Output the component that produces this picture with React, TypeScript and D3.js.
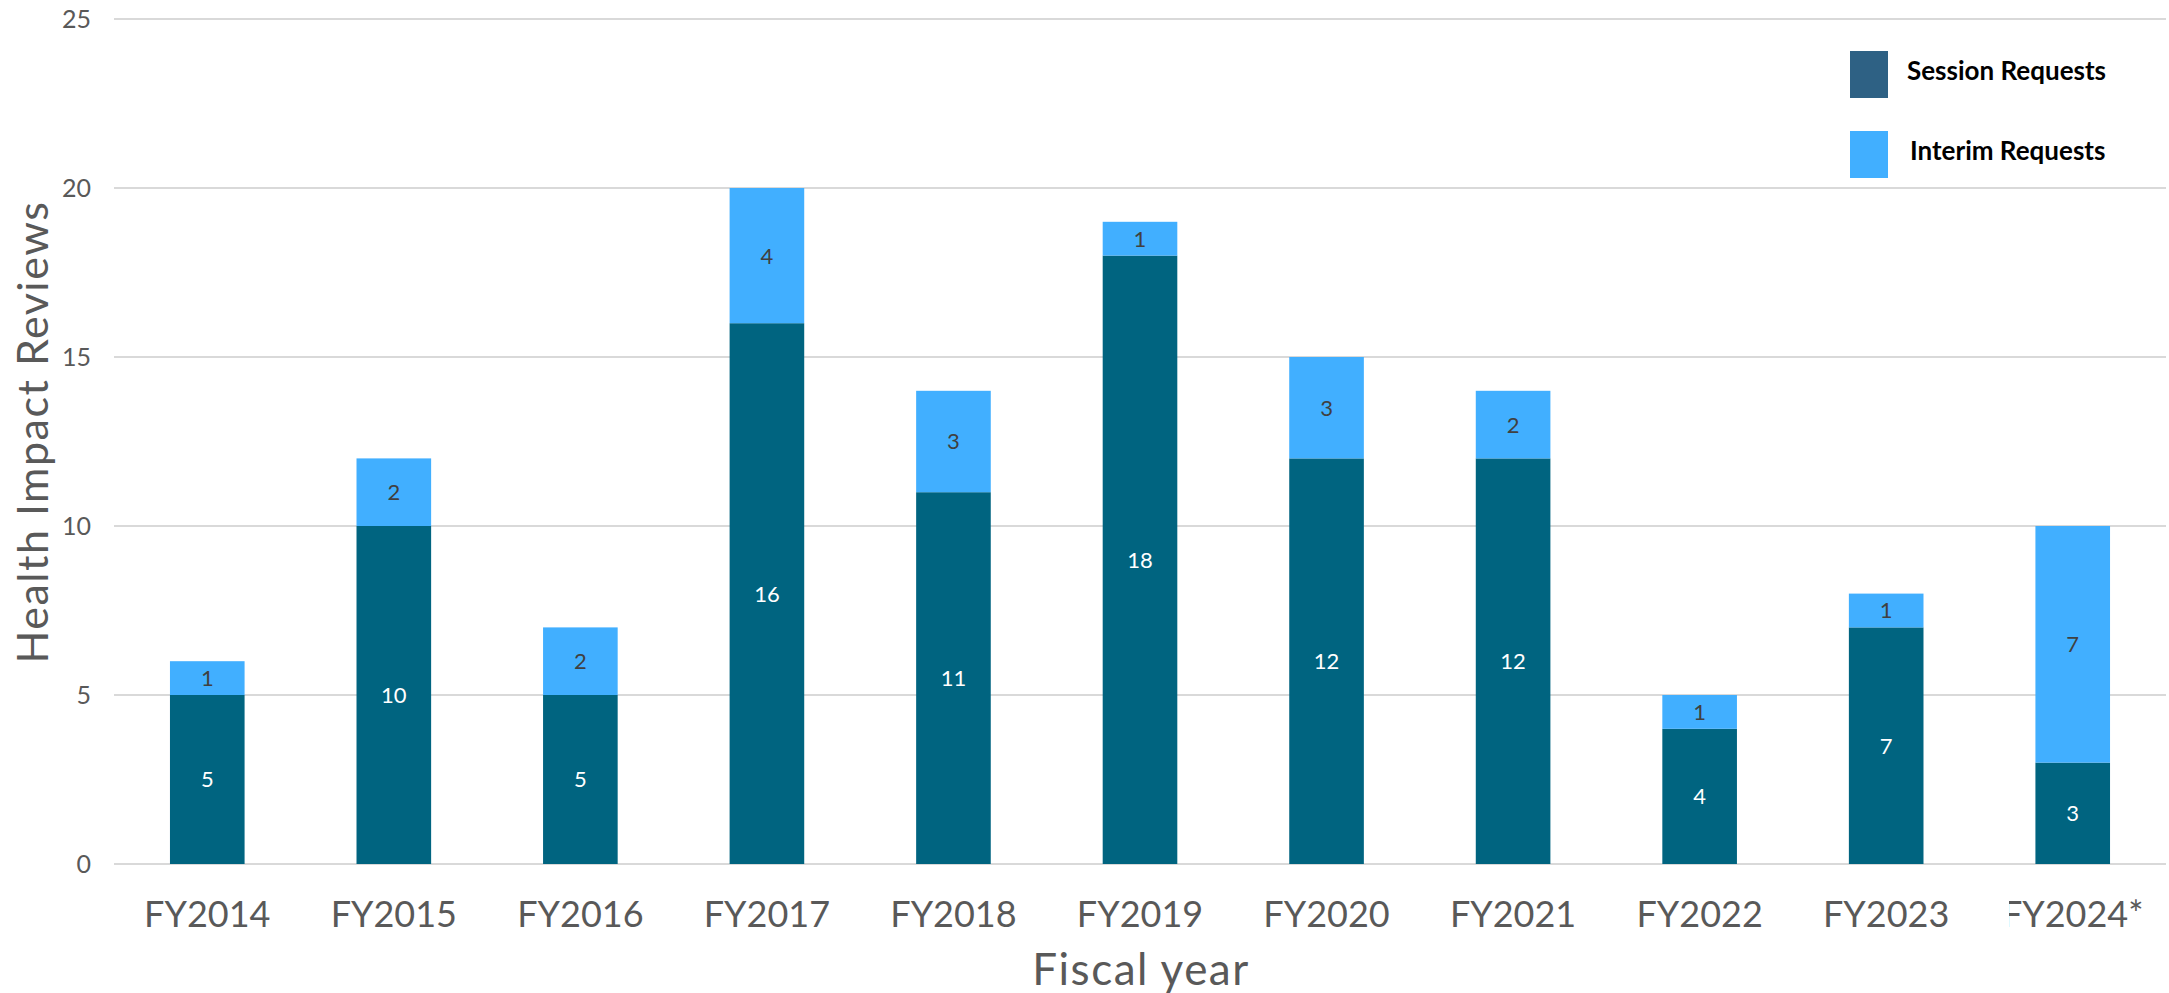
import { useEffect, useRef } from 'react'
import * as d3 from 'd3'

const years = ['FY2014', 'FY2015', 'FY2016', 'FY2017', 'FY2018', 'FY2019', 'FY2020', 'FY2021', 'FY2022', 'FY2023', 'FY2024*']
const sessionRequests = [5, 10, 5, 16, 11, 18, 12, 12, 4, 7, 3]
const interimRequests = [1, 2, 2, 4, 3, 1, 3, 2, 1, 1, 7]
const yTicks = [0, 5, 10, 15, 20, 25]

const FONT = 'Lato, "DejaVu Sans", sans-serif'

const App: React.FC = () => {
  const svgRef = useRef<SVGSVGElement>(null)

  useEffect(() => {
    if (!svgRef.current) return
    const width = 2169
    const height = 993
    const margin = { top: 19, right: 3, bottom: 129, left: 114 }

    const svg = d3.select(svgRef.current)
    svg.selectAll('*').remove()
    svg.attr('width', width).attr('height', height)

    const x = d3.scaleBand<string>()
      .domain(years)
      .range([margin.left, width - margin.right])
      .paddingInner(0.6)
      .paddingOuter(0.3)

    const y = d3.scaleLinear().domain([0, 25]).range([height - margin.bottom, margin.top])

    // gridlines
    svg.append('g')
      .selectAll('line')
      .data(yTicks)
      .enter().append('line')
      .attr('x1', margin.left)
      .attr('x2', width - margin.right)
      .attr('y1', d => y(d))
      .attr('y2', d => y(d))
      .style('stroke', '#d9d9d9')
      .style('stroke-width', 2)

    svg.append('g')
      .selectAll('text')
      .data(yTicks)
      .enter().append('text')
      .attr('x', 91)
      .attr('y', d => y(d))
      .attr('dy', '0.35em')
      .style('text-anchor', 'end')
      .style('font-family', FONT)
      .style('font-size', '25px')
      .style('fill', '#595959')
      .text(d => d)

    const rows = years.map((name, i) => ({ name, session: sessionRequests[i], interim: interimRequests[i] }))
    const stack = d3.stack<typeof rows[number]>().keys(['session', 'interim'])(rows)
    const colors = ['#006480', '#41afff']
    const labelColors = ['#ffffff', '#404040']

    stack.forEach((series, si) => {
      const g = svg.append('g')
      g.selectAll('rect')
        .data(series)
        .enter().append('rect')
        .attr('x', d => x(d.data.name)!)
        .attr('width', x.bandwidth())
        .attr('y', d => y(d[1]))
        .attr('height', d => y(d[0]) - y(d[1]))
        .style('fill', colors[si])
      g.selectAll('text')
        .data(series)
        .enter().append('text')
        .attr('x', d => x(d.data.name)! + x.bandwidth() / 2)
        .attr('y', d => (y(d[0]) + y(d[1])) / 2)
        .attr('dy', '0.36em')
        .style('text-anchor', 'middle')
        .style('font-family', FONT)
        .style('font-size', '22px')
        .style('fill', labelColors[si])
        .text(d => d[1] - d[0])
    })

    // x tick labels
    svg.append('g')
      .selectAll('text')
      .data(years)
      .enter().append('text')
      .attr('x', d => x(d)! + x.bandwidth() / 2)
      .attr('y', 927)
      .style('text-anchor', 'middle')
      .style('font-family', FONT)
      .style('font-size', '36px')
      .style('fill', '#595959')
      .text(d => d)

    // white patch clipping the last label (as in the source)
    svg.append('rect')
      .attr('x', 1969)
      .attr('y', 867)
      .attr('width', 40)
      .attr('height', 70)
      .style('fill', '#ffffff')

    svg.append('text')
      .attr('x', 1141)
      .attr('y', 985)
      .style('text-anchor', 'middle')
      .style('font-family', FONT)
      .style('font-size', '44px')
      .style('letter-spacing', '1.5px')
      .style('fill', '#595959')
      .text('Fiscal year')

    svg.append('text')
      .attr('transform', `translate(48,${432}) rotate(-90)`)
      .style('text-anchor', 'middle')
      .style('font-family', FONT)
      .style('font-size', '43px')
      .style('letter-spacing', '1.5px')
      .style('fill', '#595959')
      .text('Health Impact Reviews')

    // legend
    const legend = [
      { label: 'Session Requests', color: '#2e6184', y: 51, tx: 1907 },
      { label: 'Interim Requests', color: '#41afff', y: 131, tx: 1910 },
    ]
    const lg = svg.append('g')
    legend.forEach(item => {
      lg.append('rect')
        .attr('x', 1850)
        .attr('y', item.y)
        .attr('width', 38)
        .attr('height', 47)
        .style('fill', item.color)
      lg.append('text')
        .attr('x', item.tx)
        .attr('y', item.y + 20)
        .attr('dy', '0.35em')
        .style('font-family', FONT)
        .style('font-size', '26px')
        .style('font-weight', 'bold')
        .style('fill', '#000000')
        .text(item.label)
    })
  }, [])

  return (
    <div style={{ position: 'absolute', left: 0, top: 0 }}>
      <svg ref={svgRef}></svg>
    </div>
  )
}

export default App
